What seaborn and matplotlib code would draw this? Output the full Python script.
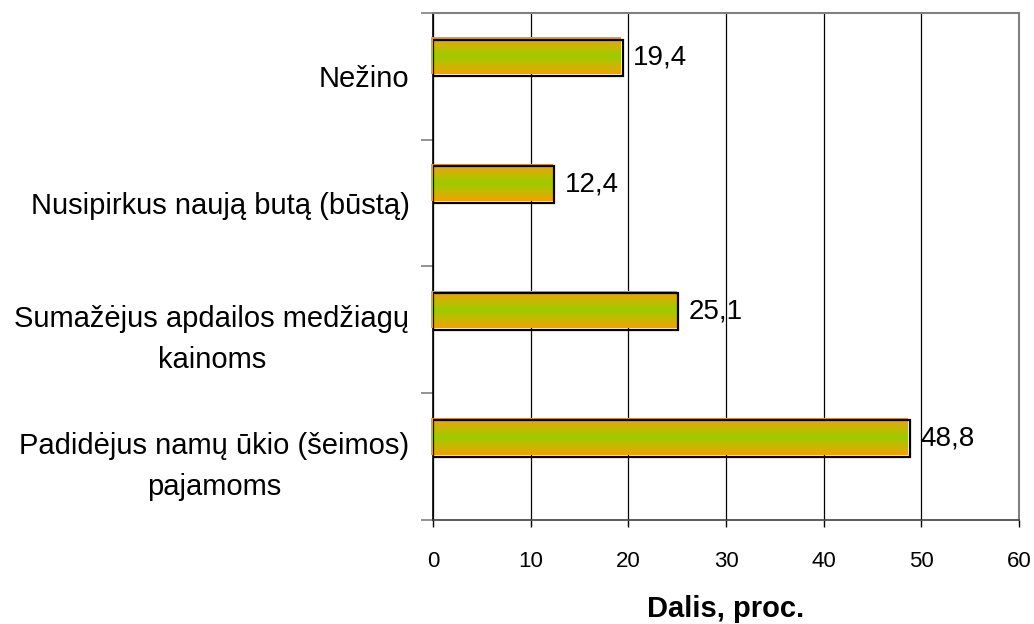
import numpy as np
import pandas as pd
import matplotlib
matplotlib.use("Agg")
import matplotlib.pyplot as plt
from matplotlib.colors import LinearSegmentedColormap
import seaborn as sns

categories = [
    "Nežino",
    "Nusipirkus naują butą (būstą)",
    "Sumažėjus apdailos medžiagų\nkainoms",
    "Padidėjus namų ūkio (šeimos)\npajamoms",
]
values = [19.4, 12.4, 25.1, 48.8]
series_names = ["Dalis", "Kita"]
x_ticks = [0, 10, 20, 30, 40, 50, 60]
x_label = "Dalis, proc."

sns.set_theme(style="white")
plt.rcParams["font.family"] = ["Liberation Sans", "DejaVu Sans"]
plt.rcParams["text.color"] = "black"
plt.rcParams["xtick.color"] = "black"
plt.rcParams["ytick.color"] = "black"
plt.rcParams["axes.labelcolor"] = "black"

df = pd.DataFrame({"kategorija": categories, "reiksme": values,
                   "serija": series_names[0]})

fig = plt.figure(figsize=(10.34, 6.24), dpi=100)
ax = fig.add_axes([0.4188, 0.1667, 0.5667, 0.8125])

sns.barplot(data=df, x="reiksme", y="kategorija", hue="serija",
            hue_order=series_names, order=categories, orient="h",
            width=0.58, dodge=True, palette=["#f0a000", "#f0a000"],
            edgecolor="none", linewidth=0, legend=False, ax=ax, zorder=3)

# orange-green-orange gradient across each bar's thickness,
# fill sits a couple of pixels up-left of the black outline
grad_cmap = LinearSegmentedColormap.from_list(
    "og", ["#f5a000", "#c8b800", "#9ccc00", "#c8b800", "#f5a000"])
grad = np.linspace(0, 1, 256).reshape(-1, 1)
px_x = 60 / 586.0
px_y = 4 / 507.0
bars = list(ax.patches)
for bar in bars:
    w = bar.get_width()
    if not np.isfinite(w) or w <= 0:
        continue
    x0, y0 = bar.get_x(), bar.get_y()
    h = bar.get_height()
    bar.set_visible(False)
    ax.imshow(grad, cmap=grad_cmap, aspect="auto",
              extent=[x0 - 2 * px_x, x0 + w - 2 * px_x,
                      y0 + h - 2 * px_y, y0 - 2 * px_y],
              zorder=3.5, interpolation="bilinear", clip_on=False)
    edge = plt.Rectangle((x0, y0), w, h, fill=False, edgecolor="black",
                         linewidth=1.6, zorder=4)
    ax.add_patch(edge)
    ax.text(x0 + w + 1.05, y0 + h / 2, f"{w:.1f}".replace(".", ","),
            va="center", ha="left", fontsize=20, color="black", zorder=5)

ax.set_xlim(0, 60)
ax.set_ylim(len(categories) - 0.5, -0.5)
ax.set_xticks(x_ticks)
ax.set_xticklabels([str(t) for t in x_ticks], fontsize=16)
ax.xaxis.grid(True, color="black", linewidth=0.9, zorder=0)
ax.set_axisbelow(True)

# category labels centred, tick marks between categories
ax.set_yticks(range(len(categories)))
ax.set_yticklabels(categories, fontsize=21, multialignment="center",
                   linespacing=1.6)
ax.set_yticks(np.arange(-0.5, len(categories), 1.0), minor=True)
ax.tick_params(axis="y", which="major", length=0, pad=17)
ax.tick_params(axis="y", which="minor", length=9, width=1.2,
               color="#808080", left=True)
ax.tick_params(axis="x", which="major", length=5, width=1, color="black",
               bottom=True, pad=17)

ax.set_xlabel(x_label, fontsize=21, fontweight="bold", labelpad=17)
ax.set_ylabel("")

for side in ["top", "right"]:
    ax.spines[side].set_color("#808080")
    ax.spines[side].set_linewidth(1.5)
ax.spines["left"].set_color("black")
ax.spines["left"].set_linewidth(1.2)
ax.spines["bottom"].set_color("#404040")
ax.spines["bottom"].set_linewidth(1.2)

fig.savefig("out.png", dpi=100)
